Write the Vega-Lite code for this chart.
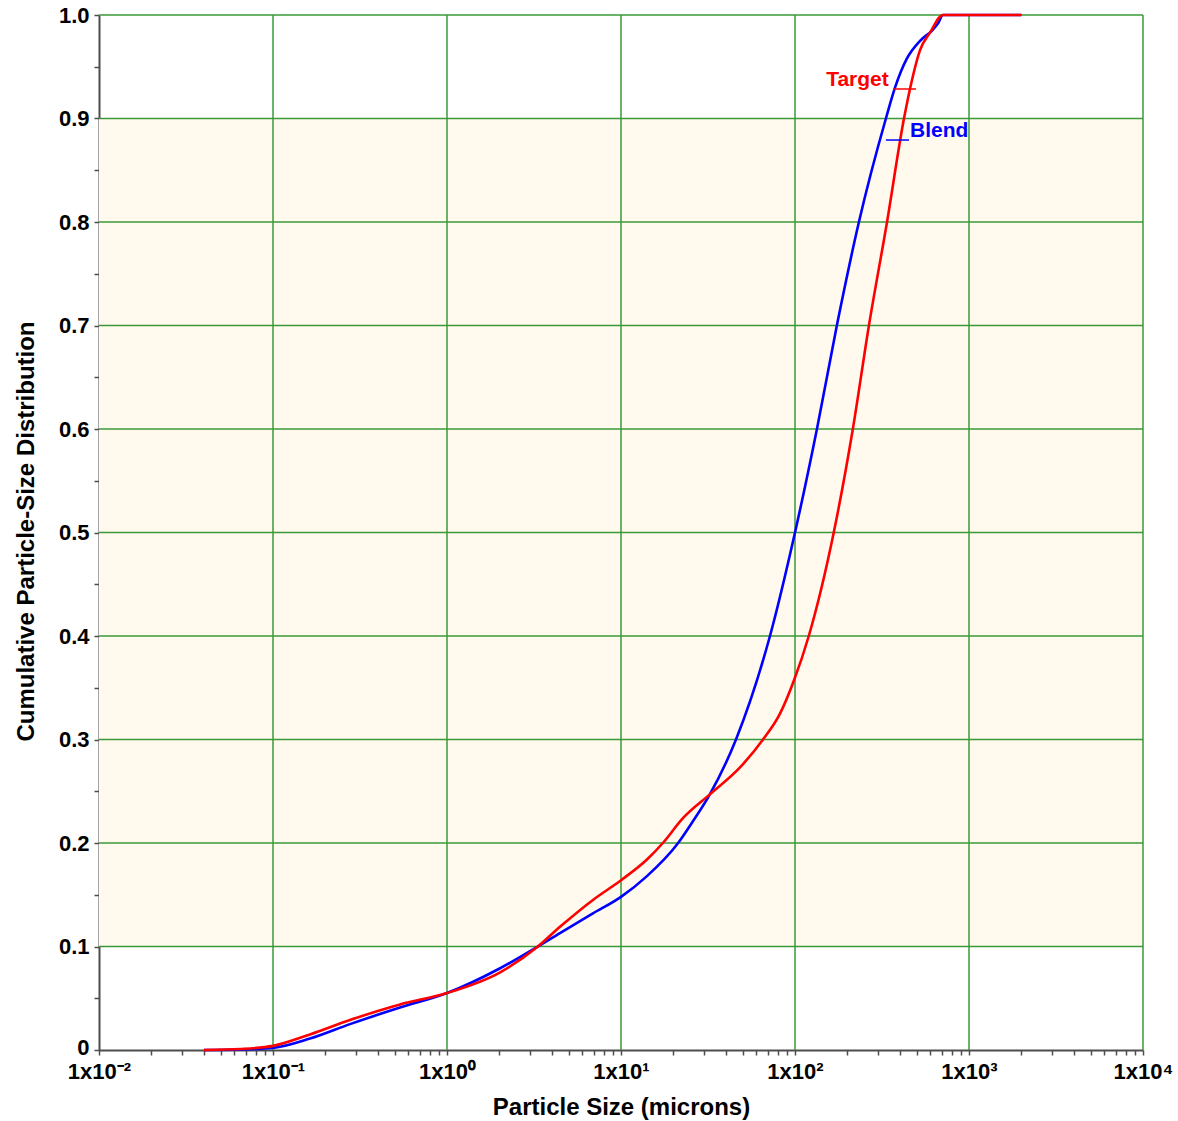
{
  "$schema": "https://vega.github.io/schema/vega-lite/v6.json",
  "width": 1044,
  "height": 1035,
  "autosize": {"type": "none"},
  "padding": {"left": 99, "top": 15, "right": 35, "bottom": 71},
  "background": "white",
  "config": {
    "view": {"stroke": null},
    "axis": {
      "grid": false,
      "domainColor": "#4D4D4D", "domainWidth": 2,
      "tickColor": "#4D4D4D", "tickSize": 5, "tickWidth": 1.5,
      "labelFont": "Liberation Sans", "labelFontSize": 22, "labelFontWeight": "bold", "labelColor": "black",
      "labelFlush": false, "labelOverlap": false, "labelBound": false,
      "titleFont": "Liberation Sans", "titleFontSize": 24, "titleFontWeight": "bold", "titleColor": "black"
    }
  },
  "datasets": {
    "curves": [
      {"size": 0.0401, "cdf": 0.0, "series": "Blend"},
      {"size": 0.0646, "cdf": 0.0005, "series": "Blend"},
      {"size": 0.1, "cdf": 0.002, "series": "Blend"},
      {"size": 0.163, "cdf": 0.011, "series": "Blend"},
      {"size": 0.277, "cdf": 0.025, "series": "Blend"},
      {"size": 0.537, "cdf": 0.041, "series": "Blend"},
      {"size": 1.0, "cdf": 0.055, "series": "Blend"},
      {"size": 2.02, "cdf": 0.079, "series": "Blend"},
      {"size": 3.33, "cdf": 0.1, "series": "Blend"},
      {"size": 4.46, "cdf": 0.113, "series": "Blend"},
      {"size": 6.9, "cdf": 0.132, "series": "Blend"},
      {"size": 10.0, "cdf": 0.148, "series": "Blend"},
      {"size": 14.1, "cdf": 0.168, "series": "Blend"},
      {"size": 21.3, "cdf": 0.2, "series": "Blend"},
      {"size": 25.9, "cdf": 0.221, "series": "Blend"},
      {"size": 32.4, "cdf": 0.247, "series": "Blend"},
      {"size": 45.8, "cdf": 0.3, "series": "Blend"},
      {"size": 71.8, "cdf": 0.4, "series": "Blend"},
      {"size": 100.0, "cdf": 0.5, "series": "Blend"},
      {"size": 133.7, "cdf": 0.6, "series": "Blend"},
      {"size": 174.0, "cdf": 0.7, "series": "Blend"},
      {"size": 233.0, "cdf": 0.8, "series": "Blend"},
      {"size": 333.0, "cdf": 0.9, "series": "Blend"},
      {"size": 376.0, "cdf": 0.93, "series": "Blend"},
      {"size": 440.0, "cdf": 0.958, "series": "Blend"},
      {"size": 523.0, "cdf": 0.975, "series": "Blend"},
      {"size": 613.0, "cdf": 0.985, "series": "Blend"},
      {"size": 664.0, "cdf": 0.992, "series": "Blend"},
      {"size": 709.0, "cdf": 1.0, "series": "Blend"},
      {"size": 2000.0, "cdf": 1.0, "series": "Blend"},
      {"size": 0.0401, "cdf": 0.0, "series": "Target"},
      {"size": 0.0646, "cdf": 0.001, "series": "Target"},
      {"size": 0.1, "cdf": 0.004, "series": "Target"},
      {"size": 0.163, "cdf": 0.015, "series": "Target"},
      {"size": 0.277, "cdf": 0.029, "series": "Target"},
      {"size": 0.537, "cdf": 0.044, "series": "Target"},
      {"size": 1.0, "cdf": 0.055, "series": "Target"},
      {"size": 2.02, "cdf": 0.075, "series": "Target"},
      {"size": 3.33, "cdf": 0.1, "series": "Target"},
      {"size": 4.46, "cdf": 0.119, "series": "Target"},
      {"size": 6.9, "cdf": 0.145, "series": "Target"},
      {"size": 10.0, "cdf": 0.164, "series": "Target"},
      {"size": 14.1, "cdf": 0.184, "series": "Target"},
      {"size": 17.4, "cdf": 0.2, "series": "Target"},
      {"size": 22.7, "cdf": 0.224, "series": "Target"},
      {"size": 32.4, "cdf": 0.247, "series": "Target"},
      {"size": 48.3, "cdf": 0.273, "series": "Target"},
      {"size": 65.5, "cdf": 0.3, "series": "Target"},
      {"size": 82.0, "cdf": 0.325, "series": "Target"},
      {"size": 98.6, "cdf": 0.357, "series": "Target"},
      {"size": 120.0, "cdf": 0.4, "series": "Target"},
      {"size": 167.0, "cdf": 0.5, "series": "Target"},
      {"size": 215.0, "cdf": 0.6, "series": "Target"},
      {"size": 266.0, "cdf": 0.7, "series": "Target"},
      {"size": 338.0, "cdf": 0.8, "series": "Target"},
      {"size": 423.0, "cdf": 0.9, "series": "Target"},
      {"size": 470.0, "cdf": 0.937, "series": "Target"},
      {"size": 523.0, "cdf": 0.966, "series": "Target"},
      {"size": 597.0, "cdf": 0.983, "series": "Target"},
      {"size": 709.0, "cdf": 1.0, "series": "Target"},
      {"size": 2000.0, "cdf": 1.0, "series": "Target"}
    ],
    "band": [{"x": 0.01, "x2": 10000, "y": 0.1, "y2": 0.9}],
    "gridx": [{"x": 0.1}, {"x": 1}, {"x": 10}, {"x": 100}, {"x": 1000}, {"x": 10000}],
    "gridy": [{"y": 0.1}, {"y": 0.2}, {"y": 0.3}, {"y": 0.4}, {"y": 0.5}, {"y": 0.6}, {"y": 0.7}, {"y": 0.8}, {"y": 0.9}, {"y": 1.0}],
    "labels": [
      {"series": "Target", "x": 151, "y": 0.9314},
      {"series": "Blend", "x": 458, "y": 0.8821}
    ],
    "marks": [
      {"series": "Target", "x": 366, "x2": 496, "y": 0.9285},
      {"series": "Blend", "x": 333, "x2": 452, "y": 0.8792}
    ]
  },
  "encoding": {
    "x": {
      "type": "quantitative",
      "title": "Particle Size (microns)",
      "scale": {"type": "log", "domain": [0.01, 10000], "nice": false},
      "axis": {
        "values": [0.01, 0.02, 0.03, 0.04, 0.05, 0.06, 0.07, 0.08, 0.09, 0.1, 0.2, 0.3, 0.4, 0.5, 0.6, 0.7, 0.8, 0.9, 1, 2, 3, 4, 5, 6, 7, 8, 9, 10, 20, 30, 40, 50, 60, 70, 80, 90, 100, 200, 300, 400, 500, 600, 700, 800, 900, 1000, 2000, 3000, 4000, 5000, 6000, 7000, 8000, 9000, 10000],
        "labelExpr": "abs(log(datum.value)/LN10 - round(log(datum.value)/LN10)) < 0.001 ? ['1x10⁻²','1x10⁻¹','1x10⁰','1x10¹','1x10²','1x10³','1x10⁴'][round(log(datum.value)/LN10)+2] : ''",
        "labelPadding": 6, "labelBaseline": "top",
        "titleBaseline": "alphabetic", "titleY": 64
      }
    },
    "y": {
      "type": "quantitative",
      "title": "Cumulative Particle-Size Distribution",
      "scale": {"domain": [0, 1], "nice": false},
      "axis": {
        "values": [0, 0.05, 0.1, 0.15, 0.2, 0.25, 0.3, 0.35, 0.4, 0.45, 0.5, 0.55, 0.6, 0.65, 0.7, 0.75, 0.8, 0.85, 0.9, 0.95, 1.0],
        "labelExpr": "abs(datum.value*10 - round(datum.value*10)) < 0.001 ? (datum.value == 0 ? '0' : format(datum.value, '.1f')) : ''",
        "labelPadding": 5,
        "labelOffset": {"condition": {"test": "datum.value == 0", "value": -3}, "value": 0},
        "titleBaseline": "alphabetic", "titleAngle": -90, "titleX": -66, "titleY": 516, "titleAlign": "center"
      }
    }
  },
  "layer": [
    {
      "data": {"name": "band"},
      "mark": {"type": "rect", "color": "#FFF9EE"},
      "encoding": {
        "x": {"field": "x"},
        "x2": {"field": "x2"},
        "y": {"field": "y"},
        "y2": {"field": "y2"}
      }
    },
    {
      "data": {"name": "gridx"},
      "mark": {"type": "rule", "color": "#3A9A3A", "strokeWidth": 1.5},
      "encoding": {
        "x": {"field": "x"},
        "y": null
      }
    },
    {
      "data": {"name": "gridy"},
      "mark": {"type": "rule", "color": "#3A9A3A", "strokeWidth": 1.5},
      "encoding": {
        "y": {"field": "y"},
        "x": null
      }
    },
    {
      "data": {"name": "curves"},
      "transform": [{"filter": "datum.series == 'Blend'"}],
      "mark": {"type": "line", "interpolate": "monotone", "strokeWidth": 2.6, "color": "#0000FF"},
      "encoding": {
        "x": {"field": "size"},
        "y": {"field": "cdf"}
      }
    },
    {
      "data": {"name": "curves"},
      "transform": [{"filter": "datum.series == 'Target'"}],
      "mark": {"type": "line", "interpolate": "monotone", "strokeWidth": 2.6, "color": "#FF0000"},
      "encoding": {
        "x": {"field": "size"},
        "y": {"field": "cdf"}
      }
    },
    {
      "data": {"name": "marks"},
      "mark": {"type": "rule", "strokeWidth": 1.5},
      "encoding": {
        "x": {"field": "x"},
        "x2": {"field": "x2"},
        "y": {"field": "y"},
        "color": {"field": "series", "type": "nominal", "scale": {"domain": ["Blend", "Target"], "range": ["#0000FF", "#FF0000"]}, "legend": null}
      }
    },
    {
      "data": {"name": "labels"},
      "mark": {"type": "text", "align": "left", "baseline": "alphabetic", "font": "Liberation Sans", "fontSize": 21, "fontWeight": "bold"},
      "encoding": {
        "x": {"field": "x"},
        "y": {"field": "y"},
        "text": {"field": "series"},
        "color": {"field": "series", "type": "nominal", "scale": {"domain": ["Blend", "Target"], "range": ["#0000FF", "#FF0000"]}, "legend": null}
      }
    }
  ]
}
